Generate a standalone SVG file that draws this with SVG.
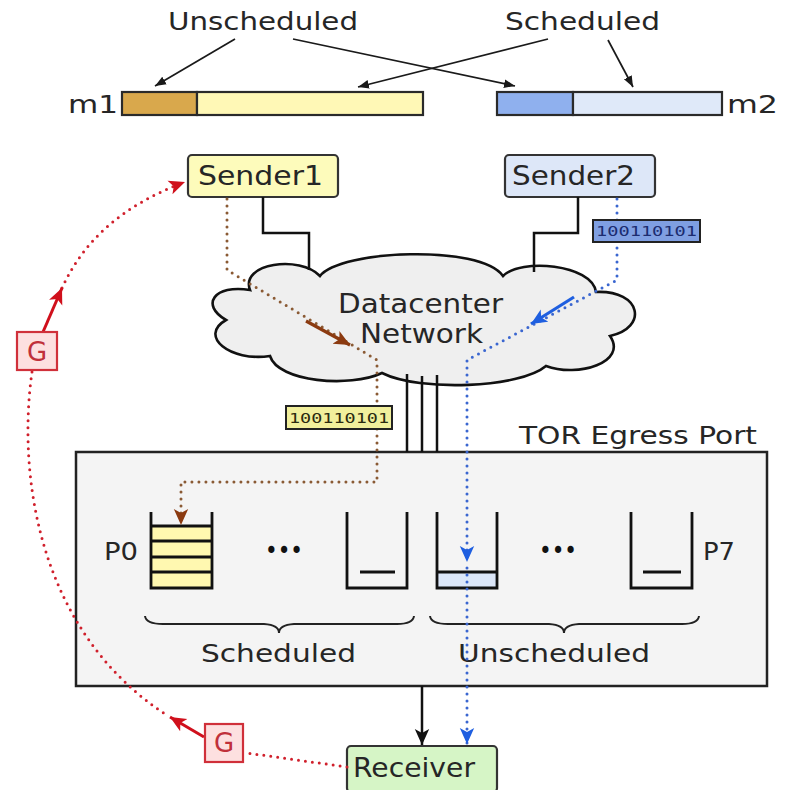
<svg xmlns="http://www.w3.org/2000/svg" width="786" height="790" viewBox="0 0 786 790">
<style>
text{font-family:"DejaVu Sans","Liberation Sans",sans-serif;fill:#262626}
.t25{font-size:25px}
.t27{font-size:27px}
.bin{font-family:"DejaVu Sans Mono","Liberation Mono",monospace;font-size:14px}
.edge{stroke:#2a2a2a;stroke-width:2.2}
.wire{fill:none;stroke:#111;stroke-width:2.5}
.thin{fill:none;stroke:#1a1a1a;stroke-width:1.7}
.brace{fill:none;stroke:#222;stroke-width:2}
.dbrown{fill:none;stroke:#8a5a34;stroke-width:3;stroke-dasharray:0 7;stroke-linecap:round}
.dblue{fill:none;stroke:#3a66d0;stroke-width:3;stroke-dasharray:0 7;stroke-linecap:round}
.dred{fill:none;stroke:#d0202c;stroke-width:3;stroke-dasharray:0 7;stroke-linecap:round}
.gbox{fill:#fde0e0;stroke:#d0303a;stroke-width:2.2}
.gtxt{font-size:26px;fill:#c0303a}
.q{fill:none;stroke:#111;stroke-width:2.8}
.dots{font-size:24px;fill:#111}
</style>
<defs>
<marker id="ak" viewBox="0 0 10 10" refX="10" refY="5" markerWidth="11" markerHeight="11" markerUnits="userSpaceOnUse" orient="auto"><path d="M0,1 L10,5 L0,9 z" fill="#1a1a1a"/></marker>
<marker id="akb" viewBox="0 0 10 10" refX="10" refY="5" markerWidth="16" markerHeight="16" markerUnits="userSpaceOnUse" orient="auto"><path d="M0,0.5 L10,5 L0,9.5 L2.5,5 z" fill="#111"/></marker>
<marker id="abr" viewBox="0 0 10 10" refX="10" refY="5" markerWidth="16" markerHeight="16" markerUnits="userSpaceOnUse" orient="auto"><path d="M0,0.5 L10,5 L0,9.5 L2.5,5 z" fill="#8b3a10"/></marker>
<marker id="abl" viewBox="0 0 10 10" refX="10" refY="5" markerWidth="16" markerHeight="16" markerUnits="userSpaceOnUse" orient="auto"><path d="M0,0.5 L10,5 L0,9.5 L2.5,5 z" fill="#1f5fe0"/></marker>
<marker id="ard" viewBox="0 0 10 10" refX="10" refY="5" markerWidth="16" markerHeight="16" markerUnits="userSpaceOnUse" orient="auto"><path d="M0,0.5 L10,5 L0,9.5 L2.5,5 z" fill="#d0101c"/></marker>
</defs>

<!-- message bars -->
<g id="msg-m1">
<text class="t25" x="68" y="113" textLength="50" lengthAdjust="spacingAndGlyphs">m1</text>
<rect x="122" y="92" width="75" height="23" fill="#d9a84c" class="edge"/>
<rect x="197" y="92" width="226" height="23" fill="#fff8b6" class="edge"/>
</g>
<g id="msg-m2">
<rect x="497" y="92" width="76" height="23" fill="#8fb0ee" class="edge"/>
<rect x="573" y="92" width="149" height="23" fill="#dfe9f9" class="edge"/>
<text class="t25" x="727" y="113" textLength="51" lengthAdjust="spacingAndGlyphs">m2</text>
</g>
<g id="label-unscheduled-top"><text class="t25" x="168" y="30" textLength="190" lengthAdjust="spacingAndGlyphs">Unscheduled</text></g>
<g id="label-scheduled-top"><text class="t25" x="505" y="30" textLength="155" lengthAdjust="spacingAndGlyphs">Scheduled</text></g>

<!-- cloud -->
<g id="cloud">
<path d="M250,290 C240,263 300,255 320,276 C340,250 480,244 503,276 C520,258 592,264 596,292 C642,290 648,328 610,336 C628,362 578,378 546,366 C520,388 420,392 382,373 C350,388 278,382 270,356 C230,362 198,336 226,320 C200,305 214,284 250,290 Z" fill="#efefef" stroke="#111" stroke-width="2.6"/>
<text class="t27" x="338" y="313" textLength="165" lengthAdjust="spacingAndGlyphs">Datacenter</text>
<text class="t27" x="360" y="343" textLength="123" lengthAdjust="spacingAndGlyphs">Network</text>
</g>

<!-- TOR egress port -->
<g id="tor">
<rect x="76" y="452" width="691" height="234" fill="#f4f4f4" stroke="#222" stroke-width="2.5"/>
<text class="t25" x="519" y="444" textLength="238" lengthAdjust="spacingAndGlyphs">TOR Egress Port</text>
<text class="t25" x="104" y="560" textLength="34" lengthAdjust="spacingAndGlyphs">P0</text>
<text class="t25" x="703" y="560" textLength="32" lengthAdjust="spacingAndGlyphs">P7</text>
<text class="dots" x="265" y="559" textLength="38" lengthAdjust="spacingAndGlyphs">•••</text>
<text class="dots" x="539" y="559" textLength="38" lengthAdjust="spacingAndGlyphs">•••</text>
<path d="M145,616 Q146,624 163,624 L264,624 Q279,625 279,633 Q279,625 294,624 L397,624 Q413,624 414,616" class="brace"/>
<path d="M430,616 Q431,624 448,624 L549,624 Q564,625 564,633 Q564,625 579,624 L682,624 Q698,624 699,616" class="brace"/>
<text class="t25" x="201" y="662" textLength="155" lengthAdjust="spacingAndGlyphs">Scheduled</text>
<text class="t25" x="458" y="662" textLength="192" lengthAdjust="spacingAndGlyphs">Unscheduled</text>
</g>
<g id="queue-p0">
<rect x="151" y="526" width="61" height="62" fill="#fff8b0"/>
<path d="M151,541 H212 M151,557 H212 M151,572 H212 M151,526 H212" class="q"/>
<path d="M151,512 V588 H212 V512" class="q"/>
</g>
<g id="queue-s2">
<path d="M347,512 V588 H407 V512" class="q"/>
<path d="M360,572 H395" class="q"/>
</g>
<g id="queue-u1">
<rect x="437" y="572" width="60" height="16" fill="#dbe6f8"/>
<path d="M437,572 H497" class="q"/>
<path d="M437,512 V588 H497 V512" class="q"/>
</g>
<g id="queue-p7">
<path d="M631,512 V588 H692 V512" class="q"/>
<path d="M643,572 H681" class="q"/>
</g>

<!-- senders / receiver -->
<g id="sender1">
<rect x="188" y="155" width="150" height="42" rx="4" fill="#fdfbbb" stroke="#333" stroke-width="2.2"/>
<text class="t27" x="198" y="185" textLength="125" lengthAdjust="spacingAndGlyphs">Sender1</text>
</g>
<g id="sender2">
<rect x="505" y="155" width="150" height="42" rx="4" fill="#dde7f8" stroke="#333" stroke-width="2.2"/>
<text class="t27" x="512" y="185" textLength="123" lengthAdjust="spacingAndGlyphs">Sender2</text>
</g>
<g id="receiver">
<rect x="347" y="746" width="150" height="46" rx="4" fill="#d6f5c6" stroke="#333" stroke-width="2.2"/>
<text class="t27" x="353" y="777" textLength="122" lengthAdjust="spacingAndGlyphs">Receiver</text>
</g>

<!-- connectors -->
<g id="connectors">
<path d="M235,39 L155,86" class="thin" marker-end="url(#ak)"/>
<path d="M293,39 L515,86" class="thin" marker-end="url(#ak)"/>
<path d="M548,39 L358,87" class="thin" marker-end="url(#ak)"/>
<path d="M608,40 L633,87" class="thin" marker-end="url(#ak)"/>
<path d="M263,197 V233 H309 V270" class="wire"/>
<path d="M578,197 V233 H534 V272" class="wire"/>
<path d="M407,374 V452 M422,376 V452 M437,375 V452" class="wire"/>
<path d="M422,686 V745" class="wire" marker-end="url(#akb)"/>
<path d="M227,199 V270 L377,360 V482 H181 V525" class="dbrown" marker-end="url(#abr)"/>
<path d="M617,199 V280 L467,360 V562" class="dblue" marker-end="url(#abl)"/>
<path d="M467,568 V744" class="dblue" marker-end="url(#abl)"/>
<path d="M306,321 L350,345" stroke="#8b3a10" stroke-width="3.2" fill="none" marker-end="url(#abr)"/>
<path d="M574,297 L531,324" stroke="#1f5fe0" stroke-width="3.2" fill="none" marker-end="url(#abl)"/>
<path d="M347,767 L247,753" class="dred"/>
<path d="M32,372 C18,470 35,630 168,716" class="dred"/>
<path d="M62,288 Q95,215 185,182" class="dred" marker-end="url(#ard)"/>
<path d="M43,332 L62,288" stroke="#d0101c" stroke-width="3" fill="none" marker-end="url(#ard)"/>
<path d="M204,737 L170,717" stroke="#d0101c" stroke-width="3" fill="none" marker-end="url(#ard)"/>
</g>

<!-- packets -->
<g id="packet-blue">
<rect x="593" y="220" width="107" height="22" fill="#7f9fe2" stroke="#222" stroke-width="2"/>
<text class="bin" x="596" y="236" textLength="101" lengthAdjust="spacingAndGlyphs" style="fill:#1c2c70">100110101</text>
</g>
<g id="packet-yellow">
<rect x="286" y="406" width="106" height="23" fill="#f1ef9c" stroke="#222" stroke-width="2"/>
<text class="bin" x="289" y="423" textLength="100" lengthAdjust="spacingAndGlyphs" style="fill:#2a2a10">100110101</text>
</g>
<g id="grant-upper">
<rect x="17" y="332" width="40" height="38" class="gbox"/>
<text class="gtxt" x="37" y="361" text-anchor="middle">G</text>
</g>
<g id="grant-lower">
<rect x="205" y="724" width="38" height="38" class="gbox"/>
<text class="gtxt" x="224" y="752" text-anchor="middle">G</text>
</g>
</svg>
